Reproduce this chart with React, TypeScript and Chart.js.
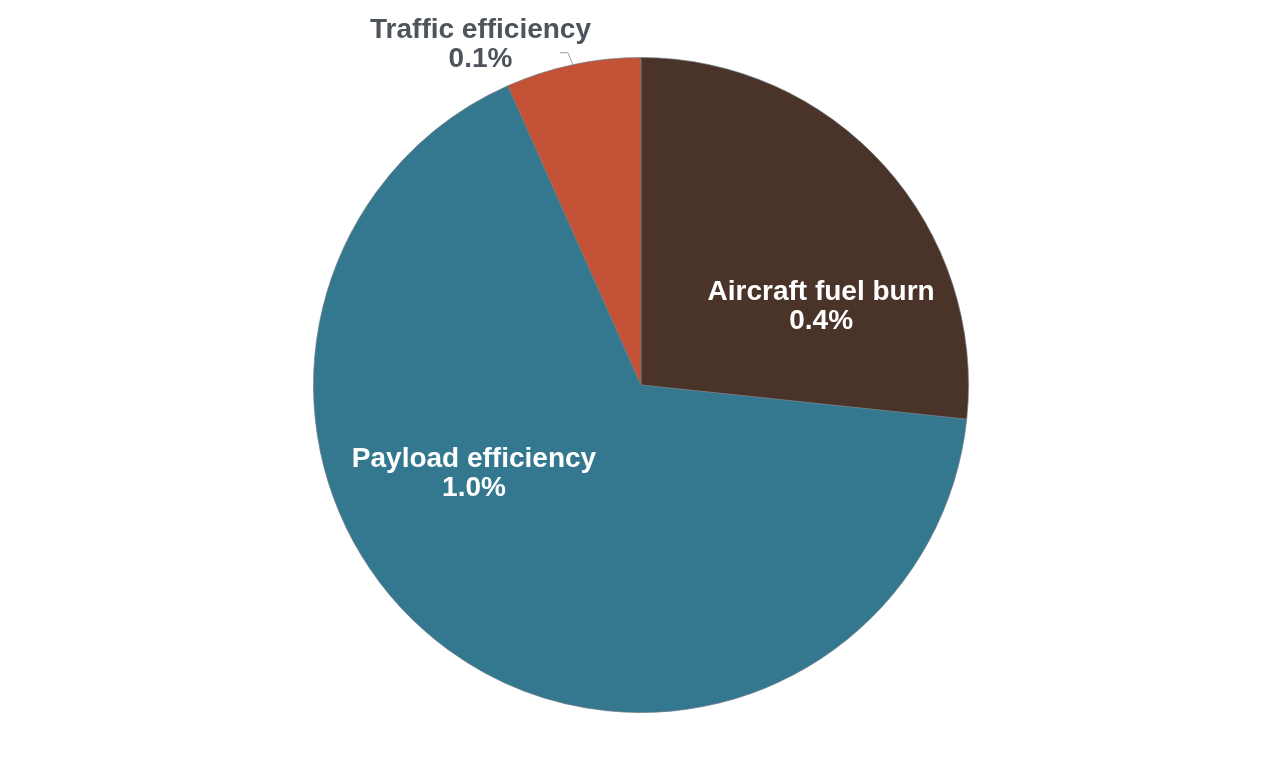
import { useEffect, useRef } from "react";
import Chart from "chart.js/auto";

const LABELS = ["Aircraft fuel burn", "Payload efficiency", "Traffic efficiency"];
const VALUES = [0.4, 1.0, 0.1];
const COLORS = ["#4a3329", "#347890", "#c45236"];

const FONT = "bold 28px 'Liberation Sans', Arial, Helvetica, sans-serif";

// label placement relative to the pie centre, in radius units
const LABEL_POS = [
  { dx: 0.55, dy: -0.24, color: "#ffffff", outside: false },
  { dx: -0.51, dy: 0.27, color: "#ffffff", outside: false },
  { dx: -0.49, dy: -1.04, color: "#4d545c", outside: true },
];

const labelPlugin = {
  id: "sliceLabels",
  afterDatasetsDraw(chart: any) {
    const ctx = chart.ctx;
    const meta = chart.getDatasetMeta(0);
    ctx.save();
    ctx.font = FONT;
    ctx.textAlign = "center";
    ctx.textBaseline = "middle";
    meta.data.forEach((arc: any, i: number) => {
      const { x, y, outerRadius, startAngle, endAngle } = arc.getProps(
        ["x", "y", "outerRadius", "startAngle", "endAngle"],
        true
      );
      const p = LABEL_POS[i];
      const lx = x + p.dx * outerRadius;
      const ly = y + p.dy * outerRadius;
      if (p.outside) {
        const mid = (startAngle + endAngle) / 2;
        const ax = x + Math.cos(mid) * outerRadius;
        const ay = y + Math.sin(mid) * outerRadius;
        ctx.strokeStyle = "#9aa0a6";
        ctx.lineWidth = 1;
        ctx.beginPath();
        ctx.moveTo(ax, ay);
        ctx.lineTo(ax - 5, ay - 12);
        ctx.lineTo(ax - 13, ay - 12);
        ctx.stroke();
      }
      ctx.fillStyle = p.color;
      ctx.fillText(LABELS[i], lx, ly - 14);
      ctx.fillText(VALUES[i].toFixed(1) + "%", lx, ly + 15);
    });
    ctx.restore();
  },
};

export default function App() {
  const canvasRef = useRef<HTMLCanvasElement>(null);

  useEffect(() => {
    const ctx = canvasRef.current?.getContext("2d");
    if (!ctx) return;
    const chart = new Chart(ctx, {
      type: "pie",
      data: {
        labels: LABELS,
        datasets: [
          {
            data: VALUES,
            backgroundColor: COLORS,
            borderColor: "rgba(110,120,128,0.7)",
            borderWidth: 1,
          },
        ],
      },
      options: {
        animation: false,
        responsive: true,
        maintainAspectRatio: false,
        layout: { padding: { top: 57, bottom: 58, left: 2, right: 0 } },
        plugins: {
          legend: { display: false },
          tooltip: { enabled: false },
        },
      },
      plugins: [labelPlugin],
    });
    return () => chart.destroy();
  }, []);

  return (
    <div style={{ position: "absolute", left: 0, top: 0, width: 1280, height: 771, background: "#ffffff" }}>
      <canvas ref={canvasRef} />
    </div>
  );
}
